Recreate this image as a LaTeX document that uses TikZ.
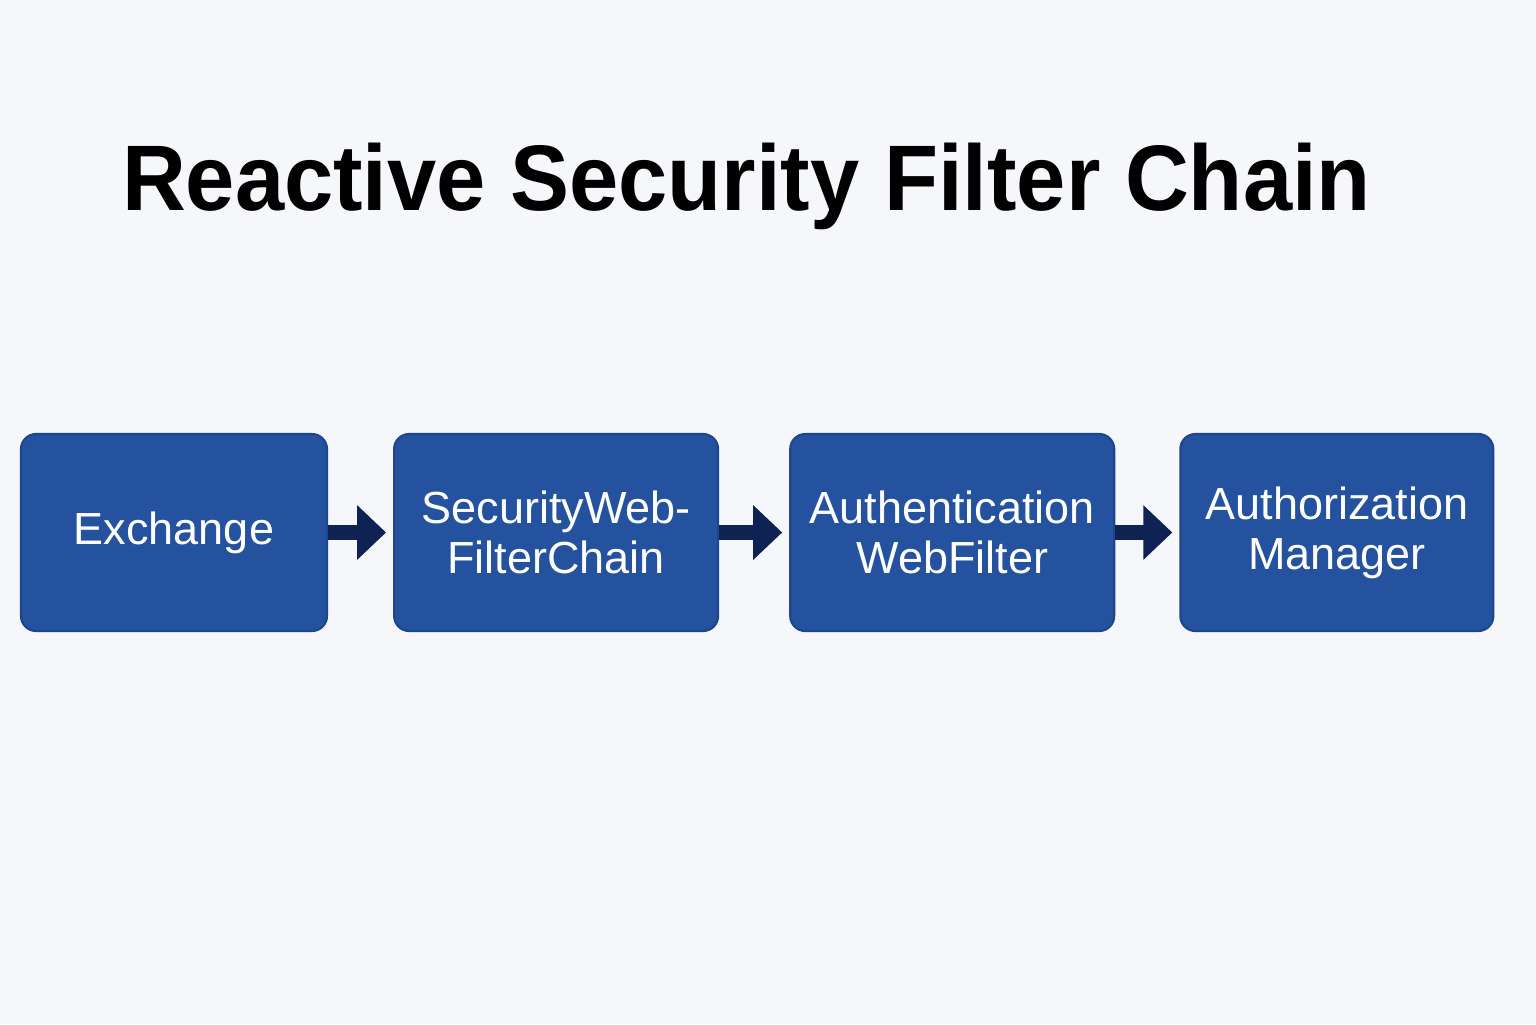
\documentclass[tikz,border=0pt]{standalone}
\usepackage{fontspec}
\setmainfont{Liberation Sans}
\usetikzlibrary{positioning,arrows.meta}

\definecolor{stagefill}{HTML}{24529E}
\definecolor{stageline}{HTML}{1D4690}
\definecolor{flowcol}{HTML}{0E2353}
\definecolor{bgcol}{HTML}{F5F7FA}

\begin{document}
\begin{tikzpicture}[
        shorten >=0.07cm,
        title/.style={anchor=base, inner sep=0pt, font=\fontsize{26.5}{30}\selectfont\bfseries},
        stage/.style={draw=stageline, fill=stagefill, text=white, align=center, minimum height=1.97cm,
          rounded corners=0.15cm, line width=0.6pt, font=\fontsize{12.8}{14.3}\selectfont},
        flow/.style={draw=flowcol, line width=0.15cm, -{Triangle[length=0.29cm, width=0.53cm]}}
      ]

      \fill[bgcol] (0,0) rectangle (15.36,-10.24);

      \node (T) [title] at (7.465,-2.10) {\scalebox{0.95}[1]{Reactive Security Filter Chain}};

      \node (Ex) [stage, minimum width=3.06cm] at (1.74,-5.325) {Exchange};
      \node (SWFC) [stage, node distance=0.65cm, right=of Ex, minimum width=3.24cm] {SecurityWeb-\\FilterChain};
      \node (AWF) [stage, node distance=0.70cm, right=of SWFC, minimum width=3.24cm] {Authentication\\WebFilter};
      \node (AM) [stage, node distance=0.64cm, right=of AWF, minimum width=3.13cm] {Authorization\\Manager};

      \path (Ex) edge[flow] (SWFC);
      \path (SWFC) edge[flow] (AWF);
      \path (AWF) edge[flow] (AM);

    \end{tikzpicture}
\end{document}
